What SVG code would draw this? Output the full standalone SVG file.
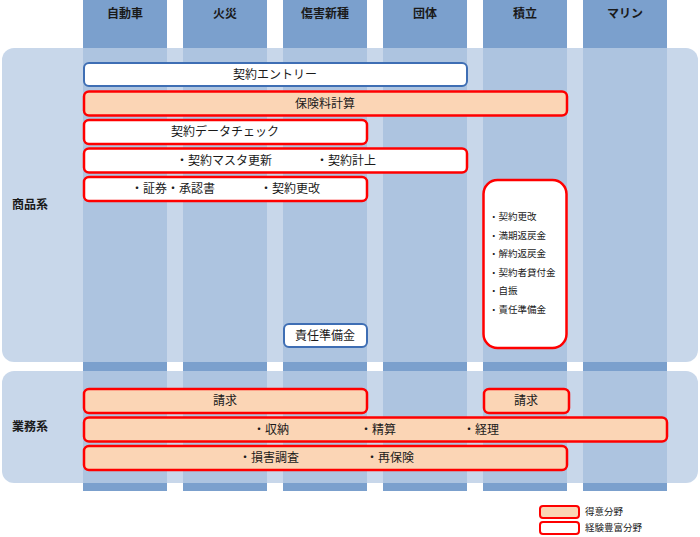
<svg xmlns="http://www.w3.org/2000/svg" width="700" height="537" viewBox="0 0 700 537">
<style>
.col{fill:#7BA0CD}
.band{fill:#BACDE5;fill-opacity:0.8}
.hdr{font-family:"Noto Sans CJK JP","Liberation Sans",sans-serif;font-size:12px;font-weight:bold;fill:#1a1a1a;text-anchor:middle}
.lbl{font-family:"Noto Sans CJK JP","Liberation Sans",sans-serif;font-size:12px;font-weight:bold;fill:#1a1a1a}
.t{font-family:"Noto Sans CJK JP","Liberation Sans",sans-serif;font-size:12px;fill:#1a1a1a}
.tc{font-family:"Noto Sans CJK JP","Liberation Sans",sans-serif;font-size:12px;fill:#1a1a1a;text-anchor:middle}
.s{font-family:"Noto Sans CJK JP","Liberation Sans",sans-serif;font-size:9.5px;fill:#1a1a1a}
.blue{fill:#ffffff;stroke:#3E6EB4;stroke-width:2}
.redw{fill:#ffffff;stroke:#FF0000;stroke-width:2.5}
.redp{fill:#FBD5B5;stroke:#FF0000;stroke-width:2.5}
</style>
<rect width="700" height="537" fill="#ffffff"/>
<g id="columns">
<rect class="col" x="83" y="0" width="84" height="491"/>
<rect class="col" x="183" y="0" width="84" height="491"/>
<rect class="col" x="283" y="0" width="84" height="491"/>
<rect class="col" x="383" y="0" width="84" height="491"/>
<rect class="col" x="483" y="0" width="84" height="491"/>
<rect class="col" x="583" y="0" width="84" height="491"/>
<text class="hdr" x="125" y="18">自動車</text>
<text class="hdr" x="225" y="18">火災</text>
<text class="hdr" x="325" y="18">傷害新種</text>
<text class="hdr" x="425" y="18">団体</text>
<text class="hdr" x="525" y="18">積立</text>
<text class="hdr" x="625" y="18">マリン</text>
</g>
<g id="band-shohin">
<rect class="band" x="2" y="48" width="696" height="314" rx="12"/>
<text class="lbl" x="12" y="209">商品系</text>
</g>
<g id="band-gyomu">
<rect class="band" x="2" y="371" width="696" height="112" rx="12"/>
<text class="lbl" x="12" y="431">業務系</text>
</g>
<g id="connectors"></g>
<g id="n-entry">
<rect class="blue" x="84" y="63" width="383" height="23" rx="5"/>
<text class="tc" x="275" y="79">契約エントリー</text>
</g>
<g id="n-premium">
<rect class="redp" x="84" y="91.5" width="483" height="24" rx="5"/>
<text class="tc" x="325" y="108">保険料計算</text>
</g>
<g id="n-check">
<rect class="redw" x="84" y="120" width="283" height="24" rx="5"/>
<text class="tc" x="225" y="136">契約データチェック</text>
</g>
<g id="n-master">
<rect class="redw" x="84" y="148.5" width="383" height="24" rx="5"/>
<text class="t" x="176" y="165">・契約マスタ更新</text>
<text class="t" x="316" y="165">・契約計上</text>
</g>
<g id="n-policy">
<rect class="redw" x="84" y="177" width="283" height="24" rx="5"/>
<text class="t" x="131" y="193">・証券・承認書</text>
<text class="t" x="260" y="193">・契約更改</text>
</g>
<g id="n-tsumitate">
<rect class="redw" x="483.5" y="180" width="83" height="168" rx="14"/>
<text class="s" x="489" y="220">・契約更改</text>
<text class="s" x="489" y="239">・満期返戻金</text>
<text class="s" x="489" y="257">・解約返戻金</text>
<text class="s" x="489" y="276">・契約者貸付金</text>
<text class="s" x="489" y="294">・自振</text>
<text class="s" x="489" y="313">・責任準備金</text>
</g>
<g id="n-reserve">
<rect class="blue" x="284" y="324" width="83" height="23" rx="5"/>
<text class="tc" x="325" y="340">責任準備金</text>
</g>
<g id="n-seikyu1">
<rect class="redp" x="84" y="389" width="283" height="24" rx="5"/>
<text class="tc" x="225" y="405">請求</text>
</g>
<g id="n-seikyu2">
<rect class="redp" x="484" y="389" width="85" height="24" rx="5"/>
<text class="tc" x="526" y="405">請求</text>
</g>
<g id="n-shuno">
<rect class="redp" x="84" y="417.5" width="583" height="24" rx="5"/>
<text class="t" x="253" y="434">・収納</text>
<text class="t" x="360" y="434">・精算</text>
<text class="t" x="463" y="434">・経理</text>
</g>
<g id="n-songai">
<rect class="redp" x="84" y="446" width="483" height="24" rx="5"/>
<text class="t" x="239" y="462">・損害調査</text>
<text class="t" x="366" y="462">・再保険</text>
</g>
<g id="legend">
<rect class="redp" x="540" y="506" width="39" height="12" rx="3" style="stroke-width:2"/>
<text class="s" x="585" y="515">得意分野</text>
<rect class="redw" x="540" y="522" width="39" height="12" rx="3" style="stroke-width:2"/>
<text class="s" x="585" y="531">経験豊富分野</text>
</g>
</svg>
